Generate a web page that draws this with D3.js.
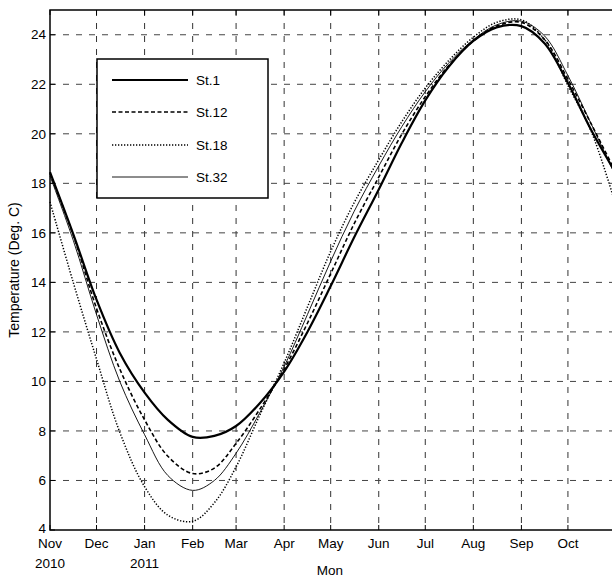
<!DOCTYPE html>
<html>
<head>
<meta charset="utf-8">
<script src="https://cdn.jsdelivr.net/npm/d3@7"></script>
<style>
  body { margin: 0; background: #fff; }
  text { font-family: "Liberation Sans", Arial, sans-serif; fill: #000; }
</style>
</head>
<body>
<div id="chart"></div>
<script>
// sample dates (1st and 16th of each month)
var dates = ["2010-11-01","2010-11-16","2010-12-01","2010-12-16","2011-01-01","2011-01-16",
  "2011-02-01","2011-02-15","2011-03-01","2011-03-16","2011-04-01","2011-04-16",
  "2011-05-01","2011-05-16","2011-06-01","2011-06-16","2011-07-01","2011-07-16",
  "2011-08-01","2011-08-16","2011-09-01","2011-09-16","2011-10-01","2011-10-16","2011-10-31"];

var st1  = [18.45,15.95,13.3,11.15,9.55,8.45,7.76,7.8,8.2,9.1,10.4,12.0,13.85,15.8,17.75,19.65,
  21.35,22.7,23.75,24.3,24.35,23.65,22.05,20.15,18.5];
var st12 = [18.4,15.9,12.95,10.5,8.45,6.98,6.28,6.5,7.5,8.85,10.5,12.35,14.35,16.35,18.25,20.0,
  21.5,22.75,23.75,24.35,24.5,23.8,22.2,20.4,18.55];
var st18 = [17.25,14.0,10.9,7.95,5.75,4.6,4.35,5.1,6.55,8.6,10.75,13.0,15.25,17.2,18.95,20.5,
  21.85,22.95,23.9,24.5,24.6,23.8,21.95,20.1,17.3];
var st32 = [18.3,15.7,12.7,10.0,7.85,6.2,5.6,6.0,7.1,8.7,10.6,12.7,14.85,16.85,18.7,20.3,
  21.7,22.85,23.8,24.4,24.55,23.95,22.35,20.4,18.4];

var seriesNames = ["St.1", "St.12", "St.18", "St.32"];
var monthLabels = ["Nov","Dec","Jan","Feb","Mar","Apr","May","Jun","Jul","Aug","Sep","Oct"];
var yearLabels = ["2010", "", "2011", "", "", "", "", "", "", "", "", ""];
var yTicks = [4, 6, 8, 10, 12, 14, 16, 18, 20, 22, 24];

var svgWidth = 612, svgHeight = 577;
var margin = { top: 10, left: 50 };
var width = 566, height = 520;

var parse = d3.timeParse("%Y-%m-%d");
var x = d3.scaleTime()
  .domain([parse("2010-11-01"), parse("2011-11-01")])
  .range([margin.left, margin.left + width]);
var y = d3.scaleLinear()
  .domain([4, 25])
  .range([margin.top + height, margin.top]);

var svg = d3.select("#chart").append("svg")
  .attr("width", svgWidth)
  .attr("height", svgHeight);

var monthTicks = d3.timeMonth.range(parse("2010-11-01"), parse("2011-11-01"));

// grid
svg.append("g").selectAll("line").data(monthTicks.slice(1)).enter().append("line")
  .attr("x1", d => x(d)).attr("x2", d => x(d))
  .attr("y1", margin.top).attr("y2", margin.top + height)
  .attr("stroke", "#333").attr("stroke-width", 1)
  .attr("stroke-dasharray", "6,7");
svg.append("g").selectAll("line").data(yTicks.slice(1)).enter().append("line")
  .attr("x1", margin.left).attr("x2", margin.left + width)
  .attr("y1", d => y(d)).attr("y2", d => y(d))
  .attr("stroke", "#444").attr("stroke-width", 1)
  .attr("stroke-dasharray", "6,7");

// box
svg.append("rect")
  .attr("x", margin.left).attr("y", margin.top)
  .attr("width", width).attr("height", height)
  .attr("fill", "none").attr("stroke", "#000").attr("stroke-width", 1.5);

// inward ticks
svg.append("g").selectAll("line").data(monthTicks).enter().append("line")
  .attr("x1", d => x(d)).attr("x2", d => x(d))
  .attr("y1", margin.top + height).attr("y2", margin.top + height - 5)
  .attr("stroke", "#000");
svg.append("g").selectAll("line").data(monthTicks).enter().append("line")
  .attr("x1", d => x(d)).attr("x2", d => x(d))
  .attr("y1", margin.top).attr("y2", margin.top + 5)
  .attr("stroke", "#000");
svg.append("g").selectAll("line").data(yTicks).enter().append("line")
  .attr("x1", margin.left).attr("x2", margin.left + 5)
  .attr("y1", d => y(d)).attr("y2", d => y(d))
  .attr("stroke", "#000");

// tick labels
svg.append("g").selectAll("text").data(yTicks).enter().append("text")
  .attr("x", margin.left - 4)
  .attr("y", d => d === 4 ? y(d) - 2 : y(d))
  .attr("dy", "0.35em")
  .attr("text-anchor", "end")
  .attr("font-size", 13.5)
  .text(d => d);

svg.append("g").selectAll("text").data(monthTicks).enter().append("text")
  .attr("x", d => x(d))
  .attr("y", margin.top + height + 18)
  .attr("text-anchor", "middle")
  .attr("font-size", 13.5)
  .text((d, i) => monthLabels[i]);

svg.append("g").selectAll("text").data(monthTicks).enter().append("text")
  .attr("x", d => x(d))
  .attr("y", margin.top + height + 38)
  .attr("text-anchor", "middle")
  .attr("font-size", 13.5)
  .text((d, i) => yearLabels[i]);

svg.append("text")
  .attr("x", 330).attr("y", 575)
  .attr("text-anchor", "middle")
  .attr("font-size", 13.5)
  .text("Mon");

svg.append("text")
  .attr("transform", "translate(19," + (margin.top + height / 2) + ") rotate(-90)")
  .attr("text-anchor", "middle")
  .attr("font-size", 14)
  .text("Temperature (Deg. C)");

// lines
var styles = [
  { w: 2.2, dash: null },
  { w: 1.6, dash: "4,2.5" },
  { w: 1.5, dash: "1.3,1.7" },
  { w: 0.9, dash: null }
];
var allSeries = [st1, st12, st18, st32];

var line = d3.line()
  .x((d, i) => x(parse(dates[i])))
  .y(d => y(d))
  .curve(d3.curveCatmullRom.alpha(0.5));

allSeries.forEach(function(s, k) {
  svg.append("path")
    .datum(s)
    .attr("d", line)
    .attr("fill", "none")
    .attr("stroke", "#000")
    .attr("stroke-width", styles[k].w)
    .attr("stroke-dasharray", styles[k].dash);
});

// legend
var legend = svg.append("g");
legend.append("rect")
  .attr("x", 97).attr("y", 59)
  .attr("width", 171).attr("height", 139)
  .attr("fill", "#fff").attr("stroke", "#000").attr("stroke-width", 1.5);
var rowY = [80, 112, 145, 177];
seriesNames.forEach(function(name, k) {
  legend.append("line")
    .attr("x1", 112).attr("x2", 188)
    .attr("y1", rowY[k]).attr("y2", rowY[k])
    .attr("stroke", "#000")
    .attr("stroke-width", styles[k].w)
    .attr("stroke-dasharray", styles[k].dash);
  legend.append("text")
    .attr("x", 196).attr("y", rowY[k])
    .attr("dy", "0.35em")
    .attr("font-size", 13.5)
    .text(name);
});
</script>
</body>
</html>
